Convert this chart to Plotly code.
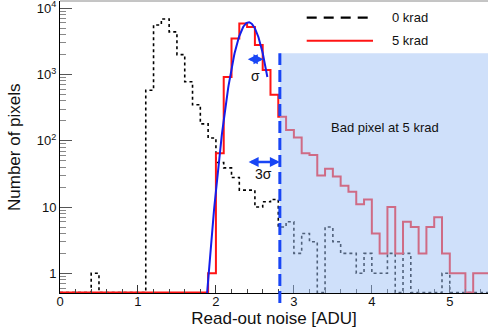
import numpy as np
import plotly.graph_objects as go

# ---------------- data ----------------
BIN_WIDTH = 0.1  # ADU, bins start at 0
# counts per 0.1-ADU bin, 0.0 ... 5.5 ADU
counts_0krad = [0, 0, 0, 0, 1, 0, 0, 0, 0, 0,
                0, 580, 5600, 6900, 4400, 2000, 780, 350, 180, 110,
                47, 39, 28, 18, 18, 10, 12, 13, 5, 6,
                2, 4, 3, 0, 5, 3, 2, 2, 1, 2,
                1, 1, 2, 0, 2, 0, 0, 0, 0, 1,
                0, 0, 0, 0, 0]
counts_5krad = [0, 0, 0, 0, 0, 0, 0, 0, 0, 0,
                0, 0, 0, 0, 0, 0, 0, 0, 0, 1,
                65, 920, 3500, 5900, 5200, 2800, 1170, 495, 230, 146,
                112, 65, 61, 30, 38, 29, 21, 17, 11, 13,
                4, 2, 10, 2, 6, 5, 2, 5, 7, 2,
                1, 1, 0, 1, 1]
series_names = ["0 krad", "5 krad"]

# Gaussian fit of the 5 krad peak
FIT_AMP = 6150
FIT_MU = 2.42
FIT_SIGMA = 0.123
FIT_X_FROM, FIT_X_TO = 1.75, 2.66

CUT_ADU = 2.82          # mean + 3 sigma threshold
BAD_REGION_TOP = 2100   # top of the shaded "bad pixel" box

SIGMA_ARROW = (2.39, 2.61, 1700)
SIGMA3_ARROW = (2.40, CUT_ADU, 48)
SIGMA_LABEL = (2.507, 950)
SIGMA3_LABEL = (2.614, 32)
BAD_LABEL = (4.17, 158)

X_RANGE = [0, 5.49]
Y_RANGE_LOG = [-0.297, 4.11]
x_tick_vals = [0, 1, 2, 3, 4, 5]
y_tick_vals = [1, 10, 100, 1000, 10000]
y_tick_text = ["1", "10", "10<sup>2</sup>", "10<sup>3</sup>", "10<sup>4</sup>"]

# ---------------- styling ----------------
FONT = "Liberation Sans, Arial, Helvetica, sans-serif"
BLUE = "rgb(25,70,245)"
FIT_BLUE = "rgb(20,30,235)"
RED = "rgb(255,20,20)"
SHADE = "rgba(160,193,246,0.5)"

ylo, yhi = Y_RANGE_LOG
floor_val = 10 ** (ylo + 0.008)


def steps(counts):
    edges = np.arange(len(counts) + 1) * BIN_WIDTH
    vals = [c if c > 0 else floor_val for c in counts]
    return edges, vals + [vals[-1]]


fig = go.Figure()
x0, y0 = steps(counts_0krad)
fig.add_trace(go.Scatter(x=x0, y=y0, mode="lines", line_shape="hv", name=series_names[0],
                         line=dict(color="black", width=1.6, dash="3px,3px"), showlegend=False))
x5, y5 = steps(counts_5krad)
fig.add_trace(go.Scatter(x=x5, y=y5, mode="lines", line_shape="hv", name=series_names[1],
                         line=dict(color=RED, width=2), showlegend=False))
fx = np.linspace(FIT_X_FROM, FIT_X_TO, 200)
fy = FIT_AMP * np.exp(-0.5 * ((fx - FIT_MU) / FIT_SIGMA) ** 2)
fig.add_trace(go.Scatter(x=fx, y=fy, mode="lines", name="Gaussian fit",
                         line=dict(color=FIT_BLUE, width=2), showlegend=False))

H = 292.0  # plot height px
top_paper = (np.log10(BAD_REGION_TOP) - ylo) / (yhi - ylo)
shapes = [
    dict(type="rect", xref="x", yref="y", x0=CUT_ADU, x1=X_RANGE[1], y0=10 ** ylo, y1=BAD_REGION_TOP,
         fillcolor=SHADE, line=dict(width=0), layer="above"),
    dict(type="line", xref="x", yref="paper", x0=CUT_ADU, x1=CUT_ADU, y0=-10 / H, y1=top_paper,
         line=dict(color=BLUE, width=3, dash="12px,5px"), layer="above"),
    # top frame
    dict(type="line", xref="paper", yref="paper", x0=0, x1=1, y0=1, y1=1,
         line=dict(color="#8a8a8a", width=1), layer="above"),
    # legend samples
    dict(type="line", xref="paper", yref="paper", x0=(306.7 - 60) / 428, x1=(373 - 60) / 428,
         y0=1 - 16.7 / H, y1=1 - 16.7 / H, line=dict(color="black", width=2.2, dash="10px,7px")),
    dict(type="line", xref="paper", yref="paper", x0=(306.7 - 60) / 428, x1=(373 - 60) / 428,
         y0=1 - 39.7 / H, y1=1 - 39.7 / H, line=dict(color=RED, width=2)),
]

tfont = dict(family=FONT, size=13, color="#111")
annotations = [
    dict(xref="paper", yref="paper", x=(390 - 60) / 428, y=1 - 16.7 / H, text=series_names[0],
         showarrow=False, xanchor="left", yanchor="middle", font=tfont),
    dict(xref="paper", yref="paper", x=(390 - 60) / 428, y=1 - 39.7 / H, text=series_names[1],
         showarrow=False, xanchor="left", yanchor="middle", font=tfont),
    dict(xref="x", yref="y", x=BAD_LABEL[0], y=np.log10(BAD_LABEL[1]), text="Bad pixel at 5 krad",
         showarrow=False, font=tfont),
    dict(xref="x", yref="y", x=SIGMA_LABEL[0], y=np.log10(SIGMA_LABEL[1]), text="σ",
         showarrow=False, font=dict(family=FONT, size=14, color="#111")),
    dict(xref="x", yref="y", x=SIGMA3_LABEL[0], y=np.log10(SIGMA3_LABEL[1]), text="3σ",
         showarrow=False, font=dict(family=FONT, size=14, color="#111")),
]
for (xa, xb, yv) in (SIGMA_ARROW, SIGMA3_ARROW):
    annotations.append(dict(xref="x", yref="y", axref="x", ayref="y",
                            x=xb, y=np.log10(yv), ax=xa, ay=np.log10(yv), text="",
                            showarrow=True, arrowside="end+start", arrowhead=2, startarrowhead=2,
                            arrowsize=0.8, startarrowsize=0.8, arrowwidth=2.5, arrowcolor=BLUE,
                            standoff=0, startstandoff=0))
annotations.append(dict(xref="paper", yref="paper", x=-46 / 428, y=0.5, text="Number of pixels",
                        textangle=-90, showarrow=False, xanchor="center", yanchor="middle",
                        font=dict(family=FONT, size=17, color="#111")))

fig.update_layout(
    width=488, height=336,
    margin=dict(l=60, r=0, t=1, b=43),
    paper_bgcolor="white", plot_bgcolor="white",
    font=dict(family=FONT, color="#111"),
    shapes=shapes, annotations=annotations,
    xaxis=dict(range=X_RANGE, showgrid=False, zeroline=False, showline=True, linecolor="black",
               linewidth=1, ticks="inside", ticklen=8, tickcolor="#333", tickwidth=1,
               tickvals=x_tick_vals, tickfont=dict(family=FONT, size=13, color="#111"),
               ticklabelstandoff=-4,
               minor=dict(dtick=0.2, ticks="inside", ticklen=4, tickcolor="#444", showgrid=False),
               title=dict(text="Read-out noise [ADU]", font=dict(family=FONT, size=17, color="#111"),
                          standoff=4),
               automargin=False),
    yaxis=dict(type="log", range=Y_RANGE_LOG, showgrid=False, zeroline=False, showline=True,
               linecolor="black", linewidth=1, ticks="inside", ticklen=12, tickcolor="#555",
               tickwidth=1, tickvals=y_tick_vals, ticktext=y_tick_text,
               tickfont=dict(family=FONT, size=13, color="#111"), ticklabeloverflow="allow",
               minor=dict(dtick="D1", ticks="inside", ticklen=6, tickcolor="#888", showgrid=False),
               automargin=False),
)

fig.write_html("out.html", config={"displayModeBar": False},
               post_script="document.body.style.margin='0';document.body.style.overflow='hidden';")
